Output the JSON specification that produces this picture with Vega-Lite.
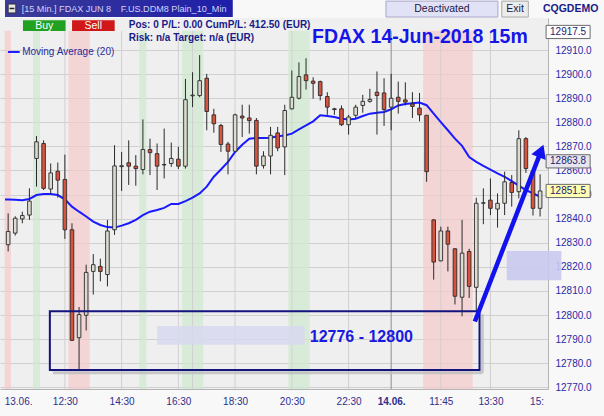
{
  "$schema": "https://vega.github.io/schema/vega-lite/v6.json",
  "width": 548,
  "height": 371,
  "autosize": {"type": "none"},
  "padding": {"left": 0, "top": 18, "right": 56, "bottom": 27},
  "background": "#f8f8f8",
  "view": {"fill": "#efefef", "stroke": null},
  "config": {"font": "Liberation Sans"},
  "datasets": {
    "candles": [
      {"i":0,"o":12829.2,"h":12842.2,"l":12826.4,"c":12834.7},
      {"i":1,"o":12834.0,"h":12841.0,"l":12833.0,"c":12840.2},
      {"i":2,"o":12839.9,"h":12842.9,"l":12838.1,"c":12841.3},
      {"i":3,"o":12841.5,"h":12852.6,"l":12839.5,"c":12847.3},
      {"i":4,"o":12865.0,"h":12874.3,"l":12853.3,"c":12871.9},
      {"i":5,"o":12871.2,"h":12872.5,"l":12851.9,"c":12852.6},
      {"i":6,"o":12852.3,"h":12862.9,"l":12850.5,"c":12859.0},
      {"i":7,"o":12859.7,"h":12863.3,"l":12848.7,"c":12856.0},
      {"i":8,"o":12856.3,"h":12866.6,"l":12831.6,"c":12835.4},
      {"i":9,"o":12835.4,"h":12838.1,"l":12789.2,"c":12789.5},
      {"i":10,"o":12790.6,"h":12803.3,"l":12776.8,"c":12800.2},
      {"i":11,"o":12799.9,"h":12820.9,"l":12793.6,"c":12817.7},
      {"i":12,"o":12818.1,"h":12825.3,"l":12808.5,"c":12820.9},
      {"i":13,"o":12820.2,"h":12823.4,"l":12814.0,"c":12818.1},
      {"i":14,"o":12816.8,"h":12839.5,"l":12811.9,"c":12834.9},
      {"i":15,"o":12835.4,"h":12870.5,"l":12833.3,"c":12861.9},
      {"i":16,"o":12861.6,"h":12867.7,"l":12851.5,"c":12862.0},
      {"i":17,"o":12863.2,"h":12872.5,"l":12854.0,"c":12861.8},
      {"i":18,"o":12861.8,"h":12866.4,"l":12853.7,"c":12860.8},
      {"i":19,"o":12860.4,"h":12881.2,"l":12858.4,"c":12868.7},
      {"i":20,"o":12868.7,"h":12873.2,"l":12858.1,"c":12867.4},
      {"i":21,"o":12867.0,"h":12871.2,"l":12851.9,"c":12861.8},
      {"i":22,"o":12862.5,"h":12877.4,"l":12856.7,"c":12862.3},
      {"i":23,"o":12862.9,"h":12871.6,"l":12861.5,"c":12865.0},
      {"i":24,"o":12864.7,"h":12869.8,"l":12860.6,"c":12861.8},
      {"i":25,"o":12861.8,"h":12898.0,"l":12860.8,"c":12889.4},
      {"i":26,"o":12891.0,"h":12900.8,"l":12886.3,"c":12891.3},
      {"i":27,"o":12891.1,"h":12907.9,"l":12890.4,"c":12897.3},
      {"i":28,"o":12898.3,"h":12900.1,"l":12876.7,"c":12884.5},
      {"i":29,"o":12883.1,"h":12885.6,"l":12875.7,"c":12879.4},
      {"i":30,"o":12878.7,"h":12879.4,"l":12867.7,"c":12870.8},
      {"i":31,"o":12871.0,"h":12871.9,"l":12858.4,"c":12868.0},
      {"i":32,"o":12868.0,"h":12883.6,"l":12867.7,"c":12883.1},
      {"i":33,"o":12882.6,"h":12887.3,"l":12873.9,"c":12881.8},
      {"i":34,"o":12881.8,"h":12887.3,"l":12875.3,"c":12880.7},
      {"i":35,"o":12880.8,"h":12881.8,"l":12858.4,"c":12861.8},
      {"i":36,"o":12862.0,"h":12868.0,"l":12860.8,"c":12866.0},
      {"i":37,"o":12866.0,"h":12878.1,"l":12858.4,"c":12874.6},
      {"i":38,"o":12875.6,"h":12878.1,"l":12868.0,"c":12869.4},
      {"i":39,"o":12869.8,"h":12887.3,"l":12858.1,"c":12884.9},
      {"i":40,"o":12885.6,"h":12901.5,"l":12885.3,"c":12890.4},
      {"i":41,"o":12890.0,"h":12904.9,"l":12889.5,"c":12899.0},
      {"i":42,"o":12899.7,"h":12906.6,"l":12893.6,"c":12897.3},
      {"i":43,"o":12897.1,"h":12898.7,"l":12889.8,"c":12896.2},
      {"i":44,"o":12896.9,"h":12897.3,"l":12889.1,"c":12891.1},
      {"i":45,"o":12890.7,"h":12892.5,"l":12883.1,"c":12886.3},
      {"i":46,"o":12885.6,"h":12886.0,"l":12883.1,"c":12885.3},
      {"i":47,"o":12885.6,"h":12887.0,"l":12878.5,"c":12879.0},
      {"i":48,"o":12879.0,"h":12883.1,"l":12874.9,"c":12882.2},
      {"i":49,"o":12882.9,"h":12887.3,"l":12881.5,"c":12886.3},
      {"i":50,"o":12887.0,"h":12891.4,"l":12884.0,"c":12888.7},
      {"i":51,"o":12888.7,"h":12893.9,"l":12888.1,"c":12889.5},
      {"i":52,"o":12892.5,"h":12901.1,"l":12874.9,"c":12891.1},
      {"i":53,"o":12892.2,"h":12898.3,"l":12878.5,"c":12885.3},
      {"i":54,"o":12886.3,"h":12900.1,"l":12876.7,"c":12890.0},
      {"i":55,"o":12890.4,"h":12896.9,"l":12883.6,"c":12888.7},
      {"i":56,"o":12889.3,"h":12896.6,"l":12887.0,"c":12888.4},
      {"i":57,"o":12887.6,"h":12892.5,"l":12881.8,"c":12886.6},
      {"i":58,"o":12885.9,"h":12892.2,"l":12880.4,"c":12883.1},
      {"i":59,"o":12882.9,"h":12883.1,"l":12855.3,"c":12859.5},
      {"i":60,"o":12839.5,"h":12839.8,"l":12814.7,"c":12822.0},
      {"i":61,"o":12822.5,"h":12836.7,"l":12822.3,"c":12834.9},
      {"i":62,"o":12834.9,"h":12836.7,"l":12818.1,"c":12829.4},
      {"i":63,"o":12827.5,"h":12827.8,"l":12804.4,"c":12807.8},
      {"i":64,"o":12807.4,"h":12839.5,"l":12799.5,"c":12825.7},
      {"i":65,"o":12826.4,"h":12827.5,"l":12807.1,"c":12811.9},
      {"i":66,"o":12811.5,"h":12848.7,"l":12801.6,"c":12846.4},
      {"i":67,"o":12846.4,"h":12852.6,"l":12837.7,"c":12846.6},
      {"i":68,"o":12847.7,"h":12856.7,"l":12841.5,"c":12844.3},
      {"i":69,"o":12844.0,"h":12850.5,"l":12836.3,"c":12846.4},
      {"i":70,"o":12846.4,"h":12859.5,"l":12841.5,"c":12855.3},
      {"i":71,"o":12855.0,"h":12858.1,"l":12845.0,"c":12850.9},
      {"i":72,"o":12851.2,"h":12876.7,"l":12848.4,"c":12873.2},
      {"i":73,"o":12873.2,"h":12873.9,"l":12859.0,"c":12860.8},
      {"i":74,"o":12859.7,"h":12861.0,"l":12841.3,"c":12844.3},
      {"i":75,"o":12844.3,"h":12858.4,"l":12840.9,"c":12851.5}
    ],
    "ma": [
      {"i":-0.44,"v":12848.0},{"i":0,"v":12848.0},{"i":1,"v":12847.9},{"i":2,"v":12847.7},{"i":3,"v":12848.2},
      {"i":4,"v":12849.8},{"i":5,"v":12850.2},{"i":6,"v":12850.2},{"i":7,"v":12849.8},{"i":8,"v":12848.0},
      {"i":9,"v":12845.0},{"i":10,"v":12842.9},{"i":11,"v":12840.9},{"i":12,"v":12838.8},{"i":13,"v":12837.4},
      {"i":14,"v":12836.5},{"i":15,"v":12836.3},{"i":16,"v":12837.1},{"i":17,"v":12838.1},{"i":18,"v":12839.5},
      {"i":19,"v":12841.5},{"i":20,"v":12842.9},{"i":21,"v":12843.6},{"i":22,"v":12844.5},{"i":23,"v":12846.1},
      {"i":24,"v":12846.1},{"i":25,"v":12847.3},{"i":26,"v":12848.7},{"i":27,"v":12850.5},{"i":28,"v":12853.3},
      {"i":29,"v":12857.4},{"i":30,"v":12860.4},{"i":31,"v":12863.6},{"i":32,"v":12867.7},{"i":33,"v":12870.7},
      {"i":34,"v":12873.2},{"i":35,"v":12873.5},{"i":36,"v":12873.5},{"i":37,"v":12873.6},{"i":38,"v":12874.2},
      {"i":39,"v":12874.5},{"i":40,"v":12875.3},{"i":41,"v":12877.1},{"i":42,"v":12878.7},{"i":43,"v":12880.4},
      {"i":44,"v":12882.9},{"i":45,"v":12882.6},{"i":46,"v":12882.2},{"i":47,"v":12881.5},{"i":48,"v":12881.2},
      {"i":49,"v":12881.5},{"i":50,"v":12882.6},{"i":51,"v":12883.6},{"i":52,"v":12884.0},{"i":53,"v":12884.3},
      {"i":54,"v":12885.4},{"i":55,"v":12887.0},{"i":56,"v":12887.6},{"i":57,"v":12887.9},{"i":58,"v":12888.2},
      {"i":59,"v":12887.1},{"i":60,"v":12883.6},{"i":61,"v":12880.1},{"i":62,"v":12876.7},{"i":63,"v":12873.2},
      {"i":64,"v":12870.2},{"i":65,"v":12865.6},{"i":66,"v":12863.6},{"i":67,"v":12861.9},{"i":68,"v":12860.4},
      {"i":69,"v":12858.8},{"i":70,"v":12857.4},{"i":71,"v":12855.6},{"i":72,"v":12853.7},{"i":73,"v":12851.9},
      {"i":74,"v":12850.5},{"i":75,"v":12849.1}
    ],
    "bands": [
      {"a":-0.5,"b":0.4,"k":"red"},
      {"a":3.5,"b":4.5,"k":"green"},
      {"a":8.5,"b":11.5,"k":"red"},
      {"a":18.5,"b":19.5,"k":"green"},
      {"a":24.5,"b":27.5,"k":"green"},
      {"a":39.5,"b":42.5,"k":"green"},
      {"a":58.5,"b":65.5,"k":"red"}
    ],
    "vgrid": [{"g":8},{"g":16},{"g":24},{"g":26},{"g":32},{"g":40},{"g":48},{"g":54},{"g":61},{"g":68}],
    "tags": [
      {"p":12917.5,"t":"12917.5"},
      {"p":12863.8,"t":"12863.8"},
      {"p":12851.5,"t":"12851.5"}
    ]
  },
  "layer": [
    {
      "data": {"name": "candles"},
      "mark": {"type": "rule", "opacity": 0},
      "encoding": {
        "x": {"field": "i", "type": "quantitative", "title": null,
          "scale": {"type": "linear", "domain": [-0.443, 75.41], "nice": false, "zero": false},
          "axis": {"orient": "bottom", "title": null, "grid": false, "ticks": false, "domain": true, "domainColor": "#b4b4b4",
            "values": [1.4, 8, 16, 24, 32, 40, 48, 54, 61, 68, 74.5], "tickCount": 30,
            "labelExpr": "datum.value == 1.4 ? '13.06.' : datum.value == 8 ? '12:30' : datum.value == 16 ? '14:30' : datum.value == 24 ? '16:30' : datum.value == 32 ? '18:30' : datum.value == 40 ? '20:30' : datum.value == 48 ? '22:30' : datum.value == 54 ? '14.06.' : datum.value == 61 ? '11:45' : datum.value == 68 ? '13:30' : '15:'",
            "labelFontWeight": {"condition": {"test": "datum.value == 54", "value": "bold"}, "value": "normal"},
            "labelFontSize": 10, "labelColor": "#2e2e8c", "labelPadding": 7, "labelOverlap": false, "labelFlush": false}},
        "y": {"field": "l", "type": "quantitative", "title": null,
          "scale": {"type": "linear", "domain": [12769.3, 12923.3], "nice": false, "zero": false},
          "axis": {"orient": "right", "title": null, "grid": true, "gridColor": "#d0d0d0", "ticks": false, "domain": true, "domainColor": "#b4b4b4",
            "values": [12770, 12780, 12790, 12800, 12810, 12820, 12830, 12840, 12850, 12860, 12870, 12880, 12890, 12900, 12910], "tickCount": 30,
            "format": ".1f", "labelFontSize": 10, "labelColor": "#2a2aa8", "labelPadding": 7, "labelOverlap": false}}
      }
    },
    {
      "data": {"name": "bands"},
      "mark": {"type": "rect", "opacity": 0.7},
      "encoding": {
        "x": {"field": "a", "type": "quantitative", "title": null},
        "x2": {"field": "b"},
        "y": {"datum": 12918, "type": "quantitative"},
        "y2": {"datum": 12769.3},
        "color": {"field": "k", "type": "nominal", "scale": {"domain": ["red", "green"], "range": ["#f5caca", "#cfeacf"]}, "legend": null}
      }
    },
    {
      "data": {"name": "vgrid"},
      "mark": {"type": "rule", "strokeWidth": 1},
      "encoding": {
        "x": {"field": "g", "type": "quantitative", "title": null},
        "y": {"datum": 12918, "type": "quantitative"},
        "y2": {"datum": 12769.3},
        "color": {"condition": {"test": "datum.g == 54", "value": "#8c8c8c"}, "value": "#d0d0d0"}
      }
    },
    {
      "data": {"values": [{}]},
      "mark": {"type": "rect", "color": "#d8d8f0", "opacity": 0.85},
      "encoding": {
        "x": {"datum": 21.0, "type": "quantitative"},
        "x2": {"datum": 41.8},
        "y": {"datum": 12795.5, "type": "quantitative"},
        "y2": {"datum": 12787.7}
      }
    },
    {
      "data": {"values": [{}]},
      "mark": {"type": "rule", "color": "#bdbdbd", "strokeWidth": 3, "opacity": 0.8},
      "encoding": {
        "x": {"datum": 6.3, "type": "quantitative"},
        "x2": {"datum": 66.85},
        "y": {"datum": 12776.0, "type": "quantitative"}
      }
    },
    {
      "data": {"values": [{}]},
      "mark": {"type": "rule", "color": "#bdbdbd", "strokeWidth": 3, "opacity": 0.8},
      "encoding": {
        "x": {"datum": 66.85, "type": "quantitative"},
        "y": {"datum": 12800.4, "type": "quantitative"},
        "y2": {"datum": 12776.0}
      }
    },
    {
      "data": {"name": "ma"},
      "mark": {"type": "line", "color": "#1a1aff", "strokeWidth": 2},
      "encoding": {
        "x": {"field": "i", "type": "quantitative", "title": null},
        "y": {"field": "v", "type": "quantitative", "title": null}
      }
    },
    {
      "data": {"name": "candles"},
      "mark": {"type": "rule", "color": "#2a2a2a", "strokeWidth": 1},
      "encoding": {
        "x": {"field": "i", "type": "quantitative", "title": null},
        "y": {"field": "l", "type": "quantitative", "title": null},
        "y2": {"field": "h"}
      }
    },
    {
      "data": {"name": "candles"},
      "mark": {"type": "bar", "size": 3.6, "stroke": "#2a2a2a", "strokeWidth": 0.9, "orient": "vertical"},
      "encoding": {
        "x": {"field": "i", "type": "quantitative", "title": null},
        "y": {"field": "o", "type": "quantitative", "title": null},
        "y2": {"field": "c"},
        "fill": {"condition": {"test": "datum.c >= datum.o", "value": "#dcdcd2"}, "value": "#d6543f"}
      }
    },
    {
      "data": {"values": [{}]},
      "mark": {"type": "rect", "fillOpacity": 0, "stroke": "#14147e", "strokeWidth": 2},
      "encoding": {
        "x": {"datum": 5.88, "type": "quantitative"},
        "x2": {"datum": 66.46},
        "y": {"datum": 12801.6, "type": "quantitative"},
        "y2": {"datum": 12777.2}
      }
    },
    {
      "data": {"values": [{"t": "12776 - 12800"}]},
      "mark": {"type": "text", "fontSize": 16, "fontWeight": "bold", "color": "#1919e0", "align": "center", "baseline": "middle"},
      "encoding": {
        "x": {"datum": 49.8, "type": "quantitative"},
        "y": {"datum": 12790.8, "type": "quantitative"},
        "text": {"field": "t"}
      }
    },
    {
      "data": {"values": [{}]},
      "mark": {"type": "rect", "color": "#c9c9f0", "opacity": 0.9},
      "encoding": {
        "x": {"datum": 70.3, "type": "quantitative"},
        "x2": {"datum": 78.0},
        "y": {"datum": 12826.6, "type": "quantitative"},
        "y2": {"datum": 12814.4}
      }
    },
    {
      "data": {"values": [{}]},
      "mark": {"type": "rule", "color": "#1212ee", "strokeWidth": 4.5},
      "encoding": {
        "x": {"datum": 65.8, "type": "quantitative"},
        "x2": {"datum": 75.0},
        "y": {"datum": 12797.3, "type": "quantitative"},
        "y2": {"datum": 12867.0}
      }
    },
    {
      "data": {"values": [{}]},
      "mark": {"type": "point", "shape": "triangle-up", "filled": true, "color": "#1212ee", "opacity": 1, "size": 240, "angle": 21.6},
      "encoding": {
        "x": {"datum": 75.13, "type": "quantitative"},
        "y": {"datum": 12868.1, "type": "quantitative"}
      }
    },
    {
      "data": {"name": "tags"},
      "mark": {"type": "point", "shape": "M-1,-0.3H1V0.3H-1Z", "filled": true, "size": 1936, "opacity": 1, "stroke": "#6a6a6a", "strokeWidth": 1},
      "encoding": {
        "x": {"datum": 78.95, "type": "quantitative"},
        "y": {"field": "p", "type": "quantitative", "title": null},
        "fill": {"condition": [{"test": "datum.t == '12851.5'", "value": "#ffffb4"}, {"test": "datum.t == '12863.8'", "value": "#e6e6ee"}], "value": "#ffffff"}
      }
    },
    {
      "data": {"name": "tags"},
      "mark": {"type": "text", "fontSize": 10, "color": "#22226e", "align": "center", "baseline": "middle"},
      "encoding": {
        "x": {"datum": 78.95, "type": "quantitative"},
        "y": {"field": "p", "type": "quantitative", "title": null},
        "text": {"field": "t"}
      }
    },
    {
      "data": {"values": [{}]},
      "mark": {"type": "rect", "color": {"gradient": "linear", "x1": 0, "x2": 1, "y1": 0, "y2": 0, "stops": [{"offset": 0, "color": "#3c3c98"}, {"offset": 1, "color": "#1e1eaa"}]}},
      "encoding": {
        "x": {"datum": -0.443, "type": "quantitative"},
        "x2": {"datum": 31.67},
        "y": {"datum": 12930.75, "type": "quantitative"},
        "y2": {"datum": 12923.7}
      }
    },
    {
      "data": {"values": [{}]},
      "mark": {"type": "rect", "color": "#e8e8e8", "stroke": "#333333", "strokeWidth": 1},
      "encoding": {
        "x": {"datum": 0.0, "type": "quantitative"},
        "x2": {"datum": 1.08},
        "y": {"datum": 12929.1, "type": "quantitative"},
        "y2": {"datum": 12925.4}
      }
    },
    {
      "data": {"values": [{}]},
      "mark": {"type": "rule", "color": "#222222", "strokeWidth": 1.5},
      "encoding": {
        "x": {"datum": 0.2, "type": "quantitative"},
        "x2": {"datum": 0.88},
        "y": {"datum": 12927.25, "type": "quantitative"}
      }
    },
    {
      "data": {"values": [{"t": "[15 Min.] FDAX JUN 8", "x": 1.91}, {"t": "F.US.DDM8 Plain_10_Min", "x": 15.89}]},
      "mark": {"type": "text", "fontSize": 9.1, "color": "#d2d2fa", "align": "left", "baseline": "middle"},
      "encoding": {
        "x": {"field": "x", "type": "quantitative", "title": null},
        "y": {"datum": 12927.0, "type": "quantitative"},
        "text": {"field": "t"}
      }
    },
    {
      "data": {"values": [{}]},
      "mark": {"type": "rect", "color": "#22a022"},
      "encoding": {
        "x": {"datum": 2.09, "type": "quantitative"},
        "x2": {"datum": 8.1},
        "y": {"datum": 12922.4, "type": "quantitative"},
        "y2": {"datum": 12917.9}
      }
    },
    {
      "data": {"values": [{}]},
      "mark": {"type": "rect", "color": "#d01818"},
      "encoding": {
        "x": {"datum": 9.01, "type": "quantitative"},
        "x2": {"datum": 15.02},
        "y": {"datum": 12922.4, "type": "quantitative"},
        "y2": {"datum": 12917.9}
      }
    },
    {
      "data": {"values": [{"t": "Buy", "x": 5.1}, {"t": "Sell", "x": 12.0}]},
      "mark": {"type": "text", "fontSize": 10.5, "color": "#ffffff", "align": "center", "baseline": "middle"},
      "encoding": {
        "x": {"field": "x", "type": "quantitative", "title": null},
        "y": {"datum": 12920.1, "type": "quantitative"},
        "text": {"field": "t"}
      }
    },
    {
      "data": {"values": [{"t": "Pos: 0  P/L: 0.00  CumP/L: 412.50 (EUR)", "y": 12920.4}, {"t": "Risk: n/a  Target: n/a (EUR)", "y": 12914.9}]},
      "mark": {"type": "text", "fontSize": 10, "fontWeight": "bold", "color": "#1a1a88", "align": "left", "baseline": "middle"},
      "encoding": {
        "x": {"datum": 17.0, "type": "quantitative"},
        "y": {"field": "y", "type": "quantitative", "title": null},
        "text": {"field": "t"}
      }
    },
    {
      "data": {"values": [{"t": "FDAX 14-Jun-2018 15m"}]},
      "mark": {"type": "text", "fontSize": 19.5, "fontWeight": "bold", "color": "#1515e8", "align": "center", "baseline": "middle"},
      "encoding": {
        "x": {"datum": 58.05, "type": "quantitative"},
        "y": {"datum": 12915.6, "type": "quantitative"},
        "text": {"field": "t"}
      }
    },
    {
      "data": {"values": [{}]},
      "mark": {"type": "rect", "color": "#e2e2f6", "stroke": "#a8a8c8", "strokeWidth": 1},
      "encoding": {
        "x": {"datum": 53.27, "type": "quantitative"},
        "x2": {"datum": 69.05},
        "y": {"datum": 12930.3, "type": "quantitative"},
        "y2": {"datum": 12923.7}
      }
    },
    {
      "data": {"values": [{}]},
      "mark": {"type": "rect", "color": "#ececec", "stroke": "#a8a8a8", "strokeWidth": 1},
      "encoding": {
        "x": {"datum": 69.6, "type": "quantitative"},
        "x2": {"datum": 73.34},
        "y": {"datum": 12930.3, "type": "quantitative"},
        "y2": {"datum": 12923.7}
      }
    },
    {
      "data": {"values": [{"t": "Deactivated", "x": 61.16}, {"t": "Exit", "x": 71.47}]},
      "mark": {"type": "text", "fontSize": 10.5, "color": "#1a1a4a", "align": "center", "baseline": "middle"},
      "encoding": {
        "x": {"field": "x", "type": "quantitative", "title": null},
        "y": {"datum": 12927.0, "type": "quantitative"},
        "text": {"field": "t"}
      }
    },
    {
      "data": {"values": [{"t": "CQGDEMO"}]},
      "mark": {"type": "text", "fontSize": 10.5, "fontWeight": "bold", "color": "#1a1a88", "align": "center", "baseline": "middle"},
      "encoding": {
        "x": {"datum": 79.3, "type": "quantitative"},
        "y": {"datum": 12927.0, "type": "quantitative"},
        "text": {"field": "t"}
      }
    },
    {
      "data": {"values": [{}]},
      "mark": {"type": "rule", "color": "#1a1aff", "strokeWidth": 2},
      "encoding": {
        "x": {"datum": -0.03, "type": "quantitative"},
        "x2": {"datum": 1.63},
        "y": {"datum": 12909.2, "type": "quantitative"}
      }
    },
    {
      "data": {"values": [{"t": "Moving Average  (20)"}]},
      "mark": {"type": "text", "fontSize": 10, "color": "#2a2a9a", "align": "left", "baseline": "middle"},
      "encoding": {
        "x": {"datum": 1.98, "type": "quantitative"},
        "y": {"datum": 12909.2, "type": "quantitative"},
        "text": {"field": "t"}
      }
    }
  ]
}
